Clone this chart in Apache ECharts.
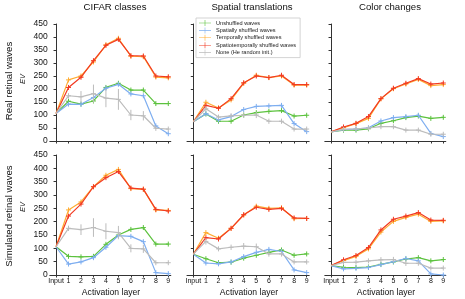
<!DOCTYPE html>
<html>
<head>
<meta charset="utf-8">
<script src="https://cdn.jsdelivr.net/npm/echarts@6/dist/echarts.min.js"></script>
<style>html,body{margin:0;padding:0;background:#fff;}#c{width:465px;height:299px;}</style>
</head>
<body>
<div id="c"></div>
<script>
const layers = ['Input','1','2','3','4','5','6','7','8','9'];
const seriesNames = ['Unshuffled waves','Spatially shuffled waves','Temporally shuffled waves','Spatiotemporally shuffled waves','None (He random init.)'];
const columnTitles = ['CIFAR classes','Spatial translations','Color changes'];
const rowTitles = ['Real retinal waves','Simulated retinal waves'];
const yTicks = [0,50,100,150,200,250,300,350,400,450];

// Real retinal waves — CIFAR classes
const cifarRealUnshuffled = [106,153,142,154,206,222,196,196,144,144];
const cifarRealSpatial = [106,142,141,167,203,218,181,174,58,28];
const cifarRealTemporal = [106,235,250,304,370,395,326,324,246,243];
const cifarRealSpatiotemporal = [106,206,245,309,368,391,328,327,250,247];
const cifarRealNone = [106,174,170,182,165,160,100,97,49,46];
const cifarRealNoneErr = [0,10,22,35,35,40,20,18,10,8];
// Real — Spatial translations
const spatialRealUnshuffled = [74,104,76,76,100,109,114,117,96,99];
const spatialRealSpatial = [74,105,81,94,121,133,135,137,67,36];
const spatialRealTemporal = [74,149,127,158,222,253,244,250,215,215];
const spatialRealSpatiotemporal = [74,137,126,163,224,250,244,253,217,217];
const spatialRealNone = [74,124,92,97,99,100,76,76,46,46];
const spatialRealNoneErr = [0,10,8,10,10,12,10,10,8,8];
// Real — Color changes
const colorRealUnshuffled = [35,42,42,47,68,78,90,96,87,91];
const colorRealSpatial = [35,44,46,51,77,90,94,99,29,17];
const colorRealTemporal = [35,51,67,87,162,201,219,237,213,217];
const colorRealSpatiotemporal = [35,54,68,94,163,203,222,240,219,223];
const colorRealNone = [35,45,47,50,55,55,42,42,26,26];
const colorRealNoneErr = [0,5,5,6,8,8,8,8,6,6];
// Simulated — CIFAR classes
const cifarSimUnshuffled = [106,70,68,70,115,150,171,178,116,116];
const cifarSimSpatial = [106,41,49,65,104,148,145,125,9,5];
const cifarSimTemporal = [106,244,274,331,374,396,324,321,244,242];
const cifarSimSpatiotemporal = [106,221,266,331,365,388,326,322,246,240];
const cifarSimNone = [106,175,170,178,164,159,100,98,46,46];
const cifarSimNoneErr = [0,10,20,35,30,25,15,15,8,8];
// Simulated — Spatial translations
const spatialSimUnshuffled = [78,61,46,48,63,74,85,94,74,79];
const spatialSimSpatial = [78,45,42,49,69,85,96,88,19,9];
const spatialSimTemporal = [78,159,138,175,225,258,250,252,211,212];
const spatialSimSpatiotemporal = [78,140,135,175,226,254,246,250,214,212];
const spatialSimNone = [78,126,98,104,108,106,79,79,49,49];
const spatialSimNoneErr = [0,12,8,10,12,12,10,10,8,8];
// Simulated — Color changes
const colorSimUnshuffled = [35,29,28,30,40,49,60,65,53,58];
const colorSimSpatial = [35,23,25,28,39,50,62,53,4,0];
const colorSimTemporal = [35,54,70,98,161,201,216,228,201,203];
const colorSimSpatiotemporal = [35,57,73,103,169,209,221,234,206,205];
const colorSimNone = [35,47,48,53,57,58,44,44,26,26];
const colorSimNoneErr = [0,6,6,8,10,10,10,8,6,6];

const panels = [
  {row:0,col:0,vals:[cifarRealUnshuffled,cifarRealSpatial,cifarRealTemporal,cifarRealSpatiotemporal,cifarRealNone],err:cifarRealNoneErr},
  {row:0,col:1,vals:[spatialRealUnshuffled,spatialRealSpatial,spatialRealTemporal,spatialRealSpatiotemporal,spatialRealNone],err:spatialRealNoneErr},
  {row:0,col:2,vals:[colorRealUnshuffled,colorRealSpatial,colorRealTemporal,colorRealSpatiotemporal,colorRealNone],err:colorRealNoneErr},
  {row:1,col:0,vals:[cifarSimUnshuffled,cifarSimSpatial,cifarSimTemporal,cifarSimSpatiotemporal,cifarSimNone],err:cifarSimNoneErr},
  {row:1,col:1,vals:[spatialSimUnshuffled,spatialSimSpatial,spatialSimTemporal,spatialSimSpatiotemporal,spatialSimNone],err:spatialSimNoneErr},
  {row:1,col:2,vals:[colorSimUnshuffled,colorSimSpatial,colorSimTemporal,colorSimSpatiotemporal,colorSimNone],err:colorSimNoneErr}
];

const colors = ['#5cc23e','#7eaef0','#ffad33','#f23a22','#bcbcbc'];
const FONT = '"Liberation Sans", Arial, Helvetica, sans-serif';
const colLeft = [49.8, 187, 324.8];
const colWidth = [121, 122.2, 121];
const rowTop = [24, 155];
const rowHeight = [117, 120];
const tickVals = layers.map((_, i) => i);

const grids = [], xAxes = [], yAxes = [], series = [];
panels.forEach((p, pi) => {
  grids.push({left: colLeft[p.col], top: rowTop[p.row], width: colWidth[p.col], height: rowHeight[p.row]});
  xAxes.push({
    gridIndex: pi, type: 'value', min: -0.5, max: 9.2,
    axisLine: {show: true, onZero: false, lineStyle: {color: '#333', width: 1}},
    axisTick: {show: true, customValues: tickVals, length: 2.5, lineStyle: {color: '#333'}},
    axisLabel: {show: p.row === 1, customValues: tickVals, formatter: v => layers[Math.round(v)], fontSize: 7, margin: 3, color: '#111', fontFamily: FONT},
    splitLine: {show: false}
  });
  yAxes.push({
    gridIndex: pi, type: 'value', min: 0, max: 450, interval: 50,
    axisLine: {show: true, lineStyle: {color: '#333', width: 1}},
    axisTick: {show: true, length: 2.5, lineStyle: {color: '#333'}},
    axisLabel: {show: p.col === 0, fontSize: 8.5, margin: 2, color: '#111', fontFamily: FONT},
    splitLine: {show: false}
  });
  p.vals.forEach((arr, si) => {
    series.push({
      type: 'line', name: seriesNames[si], xAxisIndex: pi, yAxisIndex: pi,
      data: arr.map((v, i) => [i, v]), showSymbol: false, symbol: 'none',
      lineStyle: {color: colors[si], width: 1.2}, itemStyle: {color: colors[si]},
      z: 2 + si, animation: false
    });
    const errs = si === 4 ? p.err : null;
    series.push({
      type: 'custom', name: seriesNames[si], xAxisIndex: pi, yAxisIndex: pi,
      data: arr.map((v, i) => [i, v, errs ? errs[i] : 0]).slice(1),
      itemStyle: {color: colors[si]}, z: 2 + si, animation: false, silent: true,
      renderItem: function (params, api) {
        const x = api.value(0), v = api.value(1), e = api.value(2);
        const c = api.coord([x, v]);
        const t = api.coord([x, v + e])[1];
        const b = api.coord([x, v - e])[1];
        const h = Math.max(2.5, (b - t) / 2);
        const col = colors[si];
        return {type: 'group', children: [
          {type: 'line', shape: {x1: c[0], y1: c[1] - h, x2: c[0], y2: c[1] + h}, style: {stroke: col, lineWidth: 1}},
          {type: 'line', shape: {x1: c[0] - 2.5, y1: c[1], x2: c[0] + 2.5, y2: c[1]}, style: {stroke: col, lineWidth: 1}}
        ]};
      }
    });
  });
});

const graphics = [];
const titleX = [115, 252, 390];
columnTitles.forEach((t, i) => graphics.push({type: 'text', x: titleX[i], y: 7, style: {text: t, fontSize: 9.6, fill: '#111', fontFamily: FONT, align: 'center', verticalAlign: 'middle'}}));
const xlabX = [111, 249, 386];
xlabX.forEach(x => graphics.push({type: 'text', x: x, y: 293, style: {text: 'Activation layer', fontSize: 8.6, fill: '#111', fontFamily: FONT, align: 'center', verticalAlign: 'middle'}}));
const rowY = [81, 216];
const evY = [79, 207];
rowTitles.forEach((t, i) => {
  graphics.push({type: 'text', x: 9, y: rowY[i], rotation: Math.PI / 2, style: {text: t, fontSize: 9.6, fill: '#111', fontFamily: FONT, align: 'center', verticalAlign: 'middle'}});
  graphics.push({type: 'text', x: 23, y: evY[i], rotation: Math.PI / 2, style: {text: 'EV', fontSize: 7.5, fontStyle: 'italic', fill: '#111', fontFamily: FONT, align: 'center', verticalAlign: 'middle'}});
});

const chart = echarts.init(document.getElementById('c'), null, {renderer: 'canvas'});
chart.setOption({
  animation: false,
  backgroundColor: '#fff',
  grid: grids, xAxis: xAxes, yAxis: yAxes, series: series,
  legend: {
    data: seriesNames.map(n => ({name: n, icon: 'path://M0,4.5H20V5.5H0Z M9.5,0H10.5V10H9.5Z'})),
    orient: 'vertical', left: 196, top: 18,
    itemWidth: 12, itemHeight: 7, itemGap: 1.4,
    padding: [2, 4, 2, 3],
    borderColor: '#c8c8c8', borderWidth: 0.8, backgroundColor: '#fff',
    textStyle: {fontSize: 5.6, color: '#222', fontFamily: FONT},
    selectedMode: false, z: 20
  },
  graphic: graphics
});
</script>
</body>
</html>
